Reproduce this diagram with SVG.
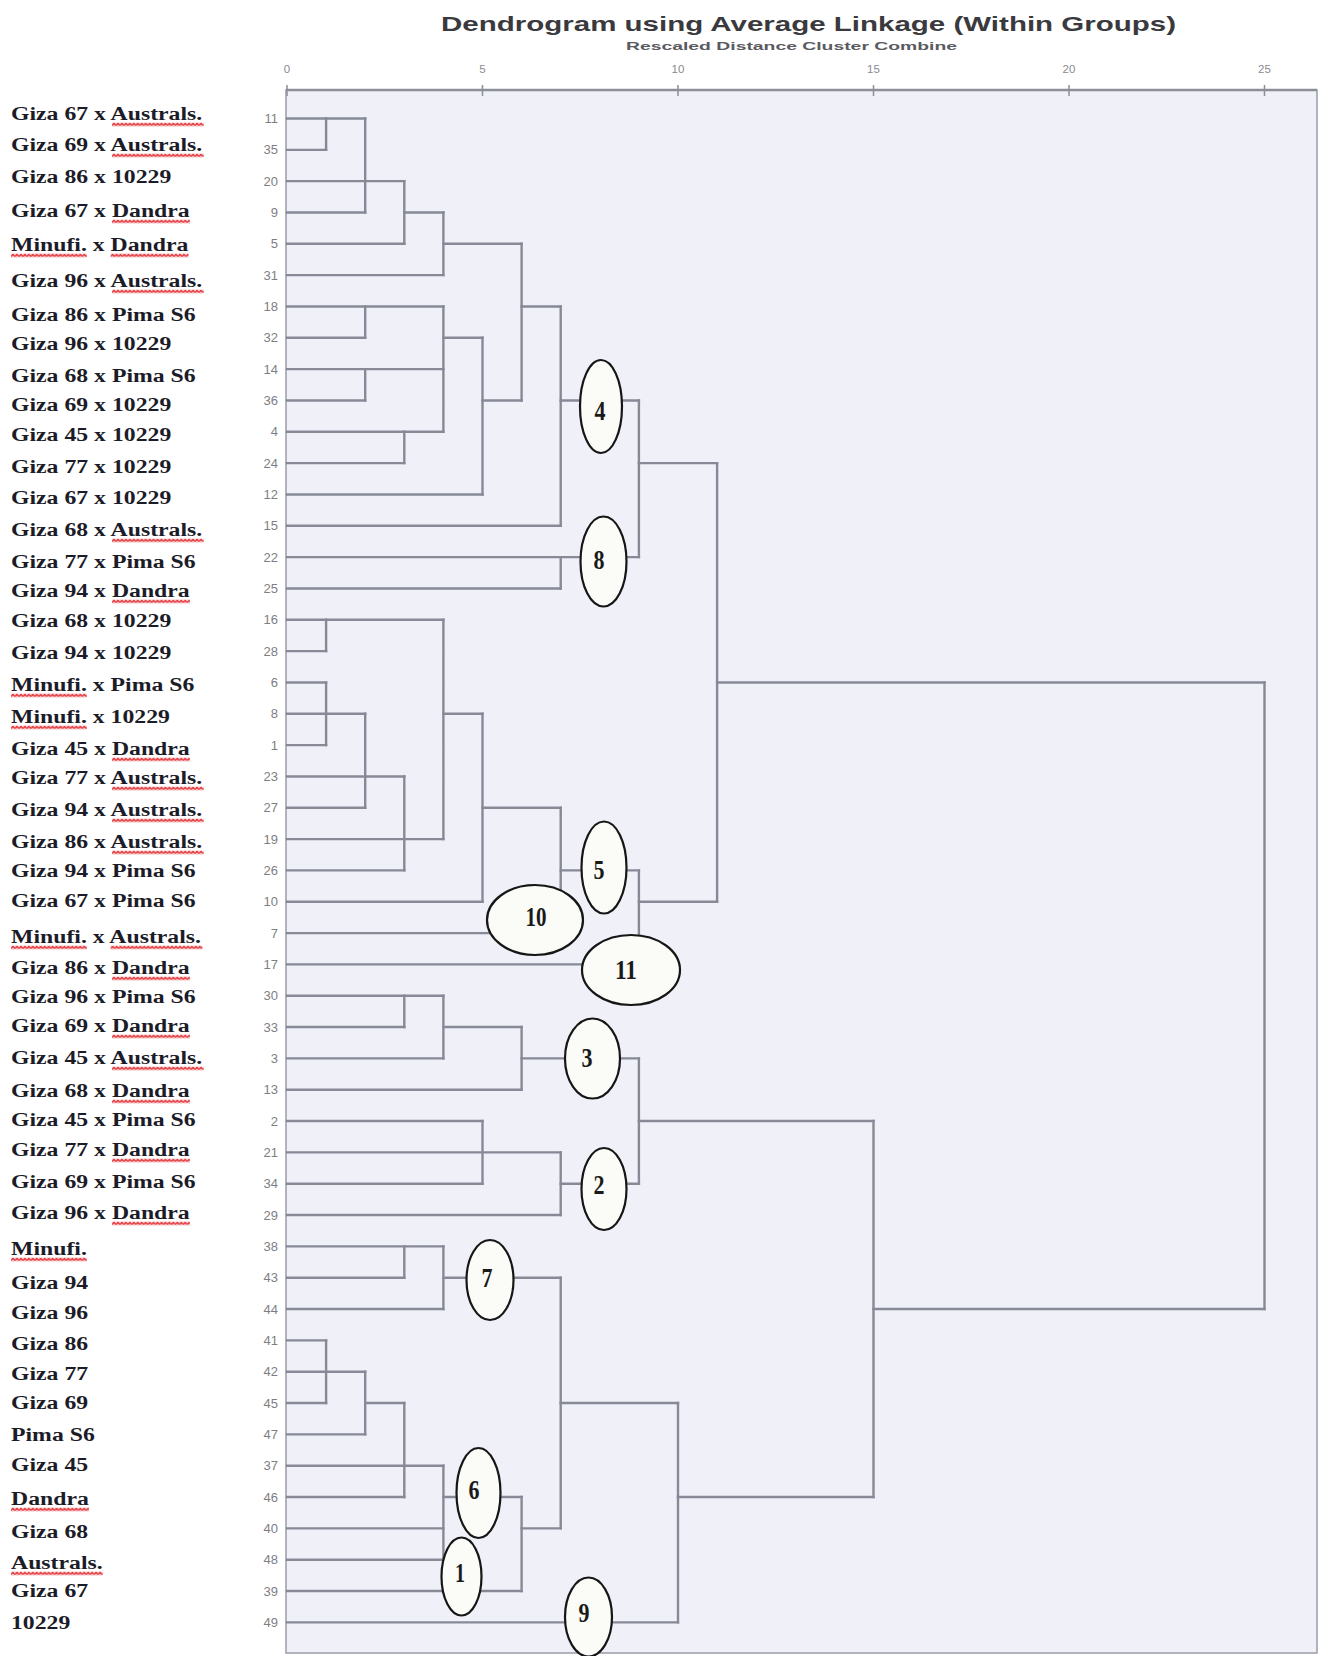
<svg xmlns="http://www.w3.org/2000/svg" width="1320" height="1656" viewBox="0 0 1320 1656">
<defs>
<style>
.title{font-family:"Liberation Sans",Arial,sans-serif;font-weight:bold;fill:#3a3a3e}
.sub{font-family:"Liberation Sans",Arial,sans-serif;font-weight:bold;fill:#5a5a60;font-size:11.5px}
.tick{font-family:"Liberation Sans",Arial,sans-serif;font-size:11.5px;fill:#8a8a90;text-anchor:middle}
.rn{font-family:"Liberation Sans",Arial,sans-serif;font-size:13px;fill:#7e7e84;text-anchor:end}
.lab{font-family:"Liberation Serif","Times New Roman",serif;font-size:18px;font-weight:bold;fill:#1c1c28}
.ul{fill:url(#wave)}
.link{fill:none;stroke:#878a96;stroke-width:2.4;stroke-linecap:square}
.oval{fill:#fbfbf7;stroke:#161616;stroke-width:2.2}
.num{font-family:"Liberation Serif","Times New Roman",serif;font-weight:bold;font-size:27px;fill:#1a1a1a;text-anchor:middle}
</style>
<pattern id="wave" width="3" height="4" patternUnits="userSpaceOnUse"><path d="M0 3.2 L1.5 0.8 L3 3.2" fill="none" stroke="#e0262c" stroke-width="1.3"/></pattern>
</defs>
<rect width="1320" height="1656" fill="#ffffff"/>

<g id="title">
<text class="title" x="441" y="31" font-size="21" textLength="735" lengthAdjust="spacingAndGlyphs">Dendrogram using Average Linkage (Within Groups)</text>
<text class="sub" x="626" y="50" textLength="331" lengthAdjust="spacingAndGlyphs">Rescaled Distance Cluster Combine</text>
</g>

<g id="plot-frame">
<rect x="286" y="90" width="1031" height="1563" fill="#eff0f8" stroke="#9a9ca6" stroke-width="1.5"/>
<line x1="286" y1="90" x2="1317" y2="90" stroke="#8c8e98" stroke-width="2.5"/>
<path d="M287 85V96M482.5 85V96M678 85V96M873.5 85V96M1069 85V96M1264.5 85V96" stroke="#8c8e98" stroke-width="1.5"/>
<text class="tick" x="287" y="73">0</text>
<text class="tick" x="482.5" y="73">5</text>
<text class="tick" x="678" y="73">10</text>
<text class="tick" x="873.5" y="73">15</text>
<text class="tick" x="1069" y="73">20</text>
<text class="tick" x="1264.5" y="73">25</text>
</g>

<g id="case-numbers">
<text class="rn" x="278" y="123">11</text>
<text class="rn" x="278" y="154.3">35</text>
<text class="rn" x="278" y="185.7">20</text>
<text class="rn" x="278" y="217">9</text>
<text class="rn" x="278" y="248.3">5</text>
<text class="rn" x="278" y="279.7">31</text>
<text class="rn" x="278" y="311">18</text>
<text class="rn" x="278" y="342.3">32</text>
<text class="rn" x="278" y="373.6">14</text>
<text class="rn" x="278" y="405">36</text>
<text class="rn" x="278" y="436.3">4</text>
<text class="rn" x="278" y="467.6">24</text>
<text class="rn" x="278" y="499">12</text>
<text class="rn" x="278" y="530.3">15</text>
<text class="rn" x="278" y="561.6">22</text>
<text class="rn" x="278" y="593">25</text>
<text class="rn" x="278" y="624.3">16</text>
<text class="rn" x="278" y="655.6">28</text>
<text class="rn" x="278" y="686.9">6</text>
<text class="rn" x="278" y="718.3">8</text>
<text class="rn" x="278" y="749.6">1</text>
<text class="rn" x="278" y="780.9">23</text>
<text class="rn" x="278" y="812.3">27</text>
<text class="rn" x="278" y="843.6">19</text>
<text class="rn" x="278" y="874.9">26</text>
<text class="rn" x="278" y="906.3">10</text>
<text class="rn" x="278" y="937.6">7</text>
<text class="rn" x="278" y="968.9">17</text>
<text class="rn" x="278" y="1000.2">30</text>
<text class="rn" x="278" y="1031.6">33</text>
<text class="rn" x="278" y="1062.9">3</text>
<text class="rn" x="278" y="1094.2">13</text>
<text class="rn" x="278" y="1125.6">2</text>
<text class="rn" x="278" y="1156.9">21</text>
<text class="rn" x="278" y="1188.2">34</text>
<text class="rn" x="278" y="1219.6">29</text>
<text class="rn" x="278" y="1250.9">38</text>
<text class="rn" x="278" y="1282.2">43</text>
<text class="rn" x="278" y="1313.5">44</text>
<text class="rn" x="278" y="1344.9">41</text>
<text class="rn" x="278" y="1376.2">42</text>
<text class="rn" x="278" y="1407.5">45</text>
<text class="rn" x="278" y="1438.9">47</text>
<text class="rn" x="278" y="1470.2">37</text>
<text class="rn" x="278" y="1501.5">46</text>
<text class="rn" x="278" y="1532.9">40</text>
<text class="rn" x="278" y="1564.2">48</text>
<text class="rn" x="278" y="1595.5">39</text>
<text class="rn" x="278" y="1626.9">49</text>
</g>

<g id="genotype-labels" transform="translate(11 0) scale(1.32 1)">
<text class="lab" x="0" y="120">Giza 67 x Australs.</text>
<text class="lab" x="0" y="151">Giza 69 x Australs.</text>
<text class="lab" x="0" y="183">Giza 86 x 10229</text>
<text class="lab" x="0" y="217">Giza 67 x Dandra</text>
<text class="lab" x="0" y="251">Minufi. x Dandra</text>
<text class="lab" x="0" y="287">Giza 96 x Australs.</text>
<text class="lab" x="0" y="321">Giza 86 x Pima S6</text>
<text class="lab" x="0" y="350">Giza 96 x 10229</text>
<text class="lab" x="0" y="382">Giza 68 x Pima S6</text>
<text class="lab" x="0" y="411">Giza 69 x 10229</text>
<text class="lab" x="0" y="441">Giza 45 x 10229</text>
<text class="lab" x="0" y="473">Giza 77 x 10229</text>
<text class="lab" x="0" y="504">Giza 67 x 10229</text>
<text class="lab" x="0" y="536">Giza 68 x Australs.</text>
<text class="lab" x="0" y="568">Giza 77 x Pima S6</text>
<text class="lab" x="0" y="597">Giza 94 x Dandra</text>
<text class="lab" x="0" y="627">Giza 68 x 10229</text>
<text class="lab" x="0" y="659">Giza 94 x 10229</text>
<text class="lab" x="0" y="691">Minufi. x Pima S6</text>
<text class="lab" x="0" y="723">Minufi. x 10229</text>
<text class="lab" x="0" y="755">Giza 45 x Dandra</text>
<text class="lab" x="0" y="784">Giza 77 x Australs.</text>
<text class="lab" x="0" y="816">Giza 94 x Australs.</text>
<text class="lab" x="0" y="848">Giza 86 x Australs.</text>
<text class="lab" x="0" y="877">Giza 94 x Pima S6</text>
<text class="lab" x="0" y="907">Giza 67 x Pima S6</text>
<text class="lab" x="0" y="943">Minufi. x Australs.</text>
<text class="lab" x="0" y="974">Giza 86 x Dandra</text>
<text class="lab" x="0" y="1003">Giza 96 x Pima S6</text>
<text class="lab" x="0" y="1032">Giza 69 x Dandra</text>
<text class="lab" x="0" y="1064">Giza 45 x Australs.</text>
<text class="lab" x="0" y="1097">Giza 68 x Dandra</text>
<text class="lab" x="0" y="1126">Giza 45 x Pima S6</text>
<text class="lab" x="0" y="1156">Giza 77 x Dandra</text>
<text class="lab" x="0" y="1188">Giza 69 x Pima S6</text>
<text class="lab" x="0" y="1219">Giza 96 x Dandra</text>
<text class="lab" x="0" y="1255">Minufi.</text>
<text class="lab" x="0" y="1289">Giza 94</text>
<text class="lab" x="0" y="1319">Giza 96</text>
<text class="lab" x="0" y="1350">Giza 86</text>
<text class="lab" x="0" y="1380">Giza 77</text>
<text class="lab" x="0" y="1409">Giza 69</text>
<text class="lab" x="0" y="1441">Pima S6</text>
<text class="lab" x="0" y="1471">Giza 45</text>
<text class="lab" x="0" y="1505">Dandra</text>
<text class="lab" x="0" y="1538">Giza 68</text>
<text class="lab" x="0" y="1569">Australs.</text>
<text class="lab" x="0" y="1597">Giza 67</text>
<text class="lab" x="0" y="1629">10229</text>
<rect class="ul" transform="translate(76.5 122.5)" width="69.5" height="4"/>
<rect class="ul" transform="translate(76.5 153.5)" width="69.5" height="4"/>
<rect class="ul" transform="translate(76.5 219.5)" width="59" height="4"/>
<rect class="ul" transform="translate(0 253.5)" width="57.5" height="4"/>
<rect class="ul" transform="translate(75.5 253.5)" width="59" height="4"/>
<rect class="ul" transform="translate(76.5 289.5)" width="69.5" height="4"/>
<rect class="ul" transform="translate(76.5 538.5)" width="69.5" height="4"/>
<rect class="ul" transform="translate(76.5 599.5)" width="59" height="4"/>
<rect class="ul" transform="translate(0 693.5)" width="57.5" height="4"/>
<rect class="ul" transform="translate(0 725.5)" width="57.5" height="4"/>
<rect class="ul" transform="translate(76.5 757.5)" width="59" height="4"/>
<rect class="ul" transform="translate(76.5 786.5)" width="69.5" height="4"/>
<rect class="ul" transform="translate(76.5 818.5)" width="69.5" height="4"/>
<rect class="ul" transform="translate(76.5 850.5)" width="69.5" height="4"/>
<rect class="ul" transform="translate(0 945.5)" width="57.5" height="4"/>
<rect class="ul" transform="translate(75.5 945.5)" width="69.5" height="4"/>
<rect class="ul" transform="translate(76.5 976.5)" width="59" height="4"/>
<rect class="ul" transform="translate(76.5 1034.5)" width="59" height="4"/>
<rect class="ul" transform="translate(76.5 1066.5)" width="69.5" height="4"/>
<rect class="ul" transform="translate(76.5 1099.5)" width="59" height="4"/>
<rect class="ul" transform="translate(76.5 1158.5)" width="59" height="4"/>
<rect class="ul" transform="translate(76.5 1221.5)" width="59" height="4"/>
<rect class="ul" transform="translate(0 1257.5)" width="57.5" height="4"/>
<rect class="ul" transform="translate(0 1507.5)" width="59" height="4"/>
<rect class="ul" transform="translate(0 1571.5)" width="69.5" height="4"/>
</g>

<g id="connectors" transform="translate(287 118.5) scale(39.1 31.33)">
<path class="link" vector-effect="non-scaling-stroke" d="M0 0H2M0 1H1M0 2H3M0 3H2M3 3H4M0 4H3M4 4H6M0 5H4M0 6H4M6 6H7M0 7H2M4 7H5M0 8H4M0 9H2M5 9H6M7 9H9M0 10H4M0 11H3M9 11H11M0 12H5M0 13H7M0 14H9M0 15H7M0 16H4M0 17H1M0 18H1M11 18H25M0 19H2M4 19H5M0 20H1M0 21H3M0 22H2M5 22H7M0 23H4M0 24H3M7 24H9M0 25H5M9 25H11M0 26H7M0 27H9M0 28H4M0 29H3M4 29H6M0 30H4M6 30H9M0 31H6M0 32H5M9 32H15M0 33H7M0 34H5M7 34H9M0 35H7M0 36H4M0 37H3M4 37H7M0 38H4M15 38H25M0 39H1M0 40H2M0 41H1M2 41H3M7 41H10M0 42H2M0 43H4M0 44H3M4 44H6M10 44H15M0 45H4M6 45H7M0 46H4M0 47H6M0 48H10"/>
<path class="link" vector-effect="non-scaling-stroke" d="M1 0V1M2 0V3M3 2V4M4 3V5M6 4V9M2 6V7M4 6V10M7 6V13M5 7V12M2 8V9M3 10V11M9 9V14M11 11V25M7 14V15M1 16V17M4 16V23M1 18V20M2 19V22M3 21V24M5 19V25M7 22V26M9 24V27M25 18V38M3 28V29M4 28V30M6 29V31M5 32V34M7 33V35M9 30V34M15 32V44M3 36V37M4 36V38M1 39V41M2 40V42M3 41V44M4 43V46M6 44V47M7 37V45M10 41V48"/>
</g>

<g id="cluster-4"><ellipse class="oval" cx="601" cy="406.5" rx="21" ry="46.5"/><text class="num" x="600" y="420" textLength="11" lengthAdjust="spacingAndGlyphs">4</text></g>
<g id="cluster-8"><ellipse class="oval" cx="603.5" cy="561.5" rx="23" ry="45"/><text class="num" x="599" y="569" textLength="11" lengthAdjust="spacingAndGlyphs">8</text></g>
<g id="cluster-5"><ellipse class="oval" cx="604" cy="867.5" rx="22.5" ry="46"/><text class="num" x="599" y="879" textLength="11" lengthAdjust="spacingAndGlyphs">5</text></g>
<g id="cluster-10"><ellipse class="oval" cx="535" cy="920" rx="48" ry="35"/><text class="num" x="536" y="926" font-size="22" fill="#444" textLength="21" lengthAdjust="spacingAndGlyphs">10</text></g>
<g id="cluster-11"><ellipse class="oval" cx="631" cy="970" rx="49" ry="35"/><text class="num" x="626" y="979" textLength="22" lengthAdjust="spacingAndGlyphs">11</text></g>
<g id="cluster-3"><ellipse class="oval" cx="592.5" cy="1058.5" rx="27.5" ry="40"/><text class="num" x="587" y="1067" textLength="11" lengthAdjust="spacingAndGlyphs">3</text></g>
<g id="cluster-2"><ellipse class="oval" cx="604" cy="1189" rx="22.5" ry="41"/><text class="num" x="599" y="1194" textLength="11" lengthAdjust="spacingAndGlyphs">2</text></g>
<g id="cluster-7"><ellipse class="oval" cx="490" cy="1280" rx="23.5" ry="40"/><text class="num" x="487" y="1287" textLength="11" lengthAdjust="spacingAndGlyphs">7</text></g>
<g id="cluster-6"><ellipse class="oval" cx="478.5" cy="1493" rx="22" ry="45"/><text class="num" x="474" y="1499" textLength="11" lengthAdjust="spacingAndGlyphs">6</text></g>
<g id="cluster-1"><ellipse class="oval" cx="461.5" cy="1576.5" rx="20" ry="39"/><text class="num" x="460" y="1582" textLength="10" lengthAdjust="spacingAndGlyphs">1</text></g>
<g id="cluster-9"><ellipse class="oval" cx="588.5" cy="1617" rx="23.5" ry="39.5"/><text class="num" x="584" y="1622" textLength="11" lengthAdjust="spacingAndGlyphs">9</text></g>
</svg>
